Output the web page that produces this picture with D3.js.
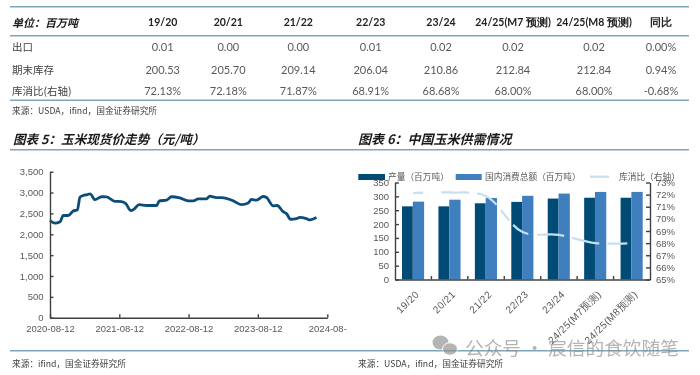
<!DOCTYPE html>
<html>
<head>
<meta charset="utf-8">
<script src="https://cdn.jsdelivr.net/npm/d3@7"></script>
<style>
  html, body { margin: 0; padding: 0; background: #fff; }
  svg { display: block; filter: blur(0.4px); }
  .cjk { font-family: "Noto Sans CJK SC", sans-serif; }
  .num { font-family: Lato, "Open Sans", sans-serif; }
  .tick text, .axisText { font-family: "Liberation Sans", Arial, sans-serif; }
</style>
</head>
<body>
<div id="chart"></div>
<script>
// table
const tableColumns = ["19/20", "20/21", "21/22", "22/23", "23/24", "24/25(M7 预测)", "24/25(M8 预测)", "同比"];
const exportRow = ["0.01", "0.00", "0.00", "0.01", "0.02", "0.02", "0.02", "0.00%"];
const stockRow = ["200.53", "205.70", "209.14", "206.04", "210.86", "212.84", "212.84", "0.94%"];
const ratioRow = ["72.13%", "72.18%", "71.87%", "68.91%", "68.68%", "68.00%", "68.00%", "-0.68%"];
const rowNames = ["出口", "期末库存", "库消比(右轴)"];

// chart 5: corn spot price
const priceDates = ["2020-08-12", "2020-09-07", "2020-10-04", "2020-10-21", "2020-11-17", "2020-12-13", "2021-01-03", "2021-01-17", "2021-02-03", "2021-02-25", "2021-03-11", "2021-04-06", "2021-05-11", "2021-06-06", "2021-07-20", "2021-08-24", "2021-09-16", "2021-10-11", "2021-10-25", "2021-11-25", "2022-01-03", "2022-02-25", "2022-03-11", "2022-04-18", "2022-05-14", "2022-06-27", "2022-08-10", "2022-09-06", "2022-10-02", "2022-11-15", "2022-12-02", "2023-01-06", "2023-02-02", "2023-03-18", "2023-04-13", "2023-05-18", "2023-06-22", "2023-07-10", "2023-08-05", "2023-09-09", "2023-09-27", "2023-11-01", "2023-11-22", "2023-12-23", "2024-01-10", "2024-01-31", "2024-03-03", "2024-03-20", "2024-04-24", "2024-05-12", "2024-06-16"];
const priceValues = [2330, 2265, 2300, 2450, 2450, 2560, 2580, 2890, 2930, 2950, 2970, 2830, 2900, 2895, 2790, 2785, 2730, 2570, 2590, 2710, 2690, 2690, 2800, 2820, 2900, 2870, 2800, 2800, 2850, 2850, 2915, 2880, 2880, 2835, 2780, 2710, 2750, 2835, 2820, 2905, 2880, 2680, 2690, 2540, 2495, 2360, 2375, 2405, 2375, 2345, 2405];
const priceTicks = [0, 500, 1000, 1500, 2000, 2500, 3000, 3500];
const dateTicks = ["2020-08-12", "2021-08-12", "2022-08-12", "2023-08-12", "2024-08-12"];
const dateTickLabels = ["2020-08-12", "2021-08-12", "2022-08-12", "2023-08-12", "2024-08-"];

// chart 6: China corn supply and demand
const seasons = ["19/20", "20/21", "21/22", "22/23", "23/24", "24/25(M7预测)", "24/25(M8预测)"];
const production = [264, 264, 275, 280, 292, 295, 295];
const consumption = [281, 288, 294, 302, 310, 316, 316];
const stockRatio = [72.13, 72.18, 71.87, 68.91, 68.68, 68.0, 68.0];
const volumeTicks = [0, 50, 100, 150, 200, 250, 300, 350];
const ratioTicks = [65, 66, 67, 68, 69, 70, 71, 72, 73];

const width = 700, height = 375;
const ruleColor = "#7fa6ba", textColor = "#595959", axisColor = "#404040";
const darkBlue = "#004a76", midBlue = "#3f7fbd", paleBlue = "#c7dff1";

const svg = d3.select("#chart").append("svg")
  .attr("width", width)
  .attr("height", height)
  .attr("viewBox", `0 0 ${width} ${height}`);

// horizontal rules
[6.7, 35.7, 100.3, 149.7, 350.7].forEach(y => {
  svg.append("line")
    .attr("x1", 10).attr("x2", 689)
    .attr("y1", y).attr("y2", y)
    .attr("stroke", ruleColor)
    .attr("stroke-width", 1.5);
});

// table
const colX = [162.7, 228.3, 298.3, 370.7, 441, 513, 594, 661];
const rowY = [46.7, 69, 90];

svg.append("text").attr("class", "cjk")
  .attr("x", 12).attr("y", 21.7)
  .attr("dominant-baseline", "central")
  .attr("font-size", 11).attr("font-weight", 700).attr("font-style", "italic")
  .attr("fill", "#222")
  .text("单位：百万吨");

svg.selectAll(".colHead").data(tableColumns).join("text")
  .attr("class", "colHead num")
  .attr("x", (d, i) => colX[i]).attr("y", 21.7)
  .attr("dominant-baseline", "central")
  .attr("text-anchor", "middle")
  .attr("font-size", 10.5).attr("font-weight", 700)
  .attr("fill", "#222")
  .text(d => d);

rowNames.forEach((name, r) => {
  svg.append("text").attr("class", "cjk")
    .attr("x", 12).attr("y", rowY[r])
    .attr("dominant-baseline", "central")
    .attr("font-size", 10.5)
    .attr("fill", "#404040")
    .text(name);
  svg.selectAll(`.row${r}`).data([exportRow, stockRow, ratioRow][r]).join("text")
    .attr("class", `row${r} num`)
    .attr("x", (d, i) => colX[i]).attr("y", rowY[r])
    .attr("dominant-baseline", "central")
    .attr("text-anchor", "middle")
    .attr("font-size", 11)
    .attr("fill", textColor)
    .text(d => d);
});

function sourceNote(x, y, txt) {
  svg.append("text").attr("class", "cjk")
    .attr("x", x).attr("y", y)
    .attr("dominant-baseline", "central")
    .attr("font-size", 8.7)
    .attr("fill", "#404040")
    .text(txt);
}
sourceNote(12, 110.7, "来源：USDA，ifind，国金证券研究所");
sourceNote(12, 363, "来源：ifind，国金证券研究所");
sourceNote(358, 363, "来源：USDA，ifind，国金证券研究所");

// section titles
function sectionTitle(x, size, txt) {
  svg.append("text").attr("class", "cjk")
    .attr("x", x).attr("y", 138)
    .attr("dominant-baseline", "central")
    .attr("font-size", size).attr("font-weight", 700).attr("font-style", "italic")
    .attr("fill", "#1a1a1a")
    .text(txt);
}
sectionTitle(13, 12.6, "图表 5：玉米现货价走势（元/吨）");
sectionTitle(358, 13, "图表 6：中国玉米供需情况");

function styleAxis(g) {
  g.selectAll("path").attr("stroke", axisColor).attr("stroke-width", 1.4);
  g.selectAll("line").attr("stroke", axisColor).attr("stroke-width", 1.4);
  g.selectAll("text").attr("fill", textColor).attr("font-size", 9.5);
}

// chart 5
const parseDate = d3.timeParse("%Y-%m-%d");
const priceX = d3.scaleTime()
  .domain([parseDate(dateTicks[0]), parseDate(dateTicks[4])])
  .range([50, 327.3]);
const priceY = d3.scaleLinear().domain([0, 3500]).range([317.7, 171.7]);

const priceLine = d3.line()
  .x((d, i) => priceX(parseDate(priceDates[i])))
  .y(d => priceY(d))
  .curve(d3.curveMonotoneX);

svg.append("path")
  .datum(priceValues)
  .attr("fill", "none")
  .attr("stroke", "#0b4d78")
  .attr("stroke-width", 2.8)
  .attr("stroke-linejoin", "round")
  .attr("d", priceLine);

svg.append("g")
  .attr("transform", "translate(50,0)")
  .call(d3.axisLeft(priceY).tickValues(priceTicks).tickFormat(d3.format(",")).tickSizeInner(-3.5).tickSizeOuter(0).tickPadding(6.5))
  .call(styleAxis);

svg.append("g")
  .attr("transform", "translate(0,317.7)")
  .call(d3.axisBottom(priceX)
    .tickValues(dateTicks.map(parseDate))
    .tickFormat((d, i) => dateTickLabels[i])
    .tickSizeInner(-3.5).tickSizeOuter(0).tickPadding(8))
  .call(styleAxis);

// chart 6
const bandX = d3.scaleBand().domain(seasons).range([395, 650]);
const volumeY = d3.scaleLinear().domain([0, 350]).range([279.5, 182.5]);
const ratioY = d3.scaleLinear().domain([65, 73]).range([279.5, 182.5]);
const barW = 10.8;

svg.selectAll(".prodBar").data(production).join("rect")
  .attr("class", "prodBar")
  .attr("x", (d, i) => bandX(seasons[i]) + bandX.bandwidth() / 2 - 0.4 - barW)
  .attr("y", d => volumeY(d))
  .attr("width", barW)
  .attr("height", d => volumeY(0) - volumeY(d))
  .attr("fill", darkBlue);

svg.selectAll(".consBar").data(consumption).join("rect")
  .attr("class", "consBar")
  .attr("x", (d, i) => bandX(seasons[i]) + bandX.bandwidth() / 2 - 0.4)
  .attr("y", d => volumeY(d))
  .attr("width", barW + 0.5)
  .attr("height", d => volumeY(0) - volumeY(d))
  .attr("fill", midBlue);

const ratioLine = d3.line()
  .x((d, i) => bandX(seasons[i]) + bandX.bandwidth() / 2)
  .y(d => ratioY(d))
  .curve(d3.curveCatmullRom.alpha(0.5));

svg.append("path")
  .datum(stockRatio)
  .attr("fill", "none")
  .attr("stroke", paleBlue)
  .attr("stroke-width", 2.2)
  .attr("stroke-dasharray", "10 18 28 8 23 7 13 6 18 9 27 8 28 8 10 0")
  .attr("d", ratioLine);

svg.append("g")
  .attr("transform", "translate(395,0)")
  .call(d3.axisLeft(volumeY).tickValues(volumeTicks).tickSizeInner(-4).tickSizeOuter(0).tickPadding(6))
  .call(styleAxis);

svg.append("g")
  .attr("transform", "translate(650,0)")
  .call(d3.axisRight(ratioY).tickValues(ratioTicks).tickFormat(d => d + "%").tickSizeInner(-4).tickSizeOuter(0).tickPadding(6))
  .call(styleAxis);

const bandAxis = svg.append("g")
  .attr("transform", "translate(0,279.5)")
  .call(d3.axisBottom(bandX).tickSize(0).tickPadding(0))
  .call(styleAxis);
bandAxis.selectAll("text")
  .attr("text-anchor", "end")
  .attr("dy", 0)
  .attr("font-size", 10)
  .attr("letter-spacing", 0.4)
  .attr("transform", "translate(4,13) rotate(-45)")
  .attr("dominant-baseline", "central");

// separators between categories
svg.selectAll(".catTick").data(seasons.slice(1)).join("line")
  .attr("class", "catTick")
  .attr("x1", d => bandX(d)).attr("x2", d => bandX(d))
  .attr("y1", 279.5).attr("y2", 276)
  .attr("stroke", axisColor)
  .attr("stroke-width", 1.4);

// legend
const legendText = [
  { x: 388, label: "产量（百万吨）" },
  { x: 485, label: "国内消费总额（百万吨）" },
  { x: 619, label: "库消比（右轴）" }
];
svg.append("rect").attr("x", 358.3).attr("y", 174).attr("width", 26.7).attr("height", 6).attr("fill", darkBlue);
svg.append("rect").attr("x", 455.7).attr("y", 174).attr("width", 26).attr("height", 6).attr("fill", midBlue);
svg.append("line").attr("x1", 590).attr("x2", 609).attr("y1", 176.7).attr("y2", 176.7).attr("stroke", paleBlue).attr("stroke-width", 2.2);
svg.selectAll(".legendLabel").data(legendText).join("text")
  .attr("class", "legendLabel cjk")
  .attr("x", d => d.x).attr("y", 176.7)
  .attr("dominant-baseline", "central")
  .attr("font-size", 8.7)
  .attr("fill", textColor)
  .text(d => d.label);

// watermark
const mark = svg.append("g").attr("fill", "#8c8c8c").attr("opacity", 0.65);
mark.append("ellipse").attr("cx", 440.5).attr("cy", 342.5).attr("rx", 8).attr("ry", 7);
mark.append("ellipse").attr("cx", 450).attr("cy", 349).attr("rx", 7.5).attr("ry", 6.2).attr("stroke", "#fff").attr("stroke-width", 1);
mark.append("text").attr("class", "cjk")
  .attr("x", 465).attr("y", 346.7)
  .attr("dominant-baseline", "central")
  .attr("font-size", 18.7)
  .text("公众号 · 宸信的食饮随笔");
</script>
</body>
</html>
